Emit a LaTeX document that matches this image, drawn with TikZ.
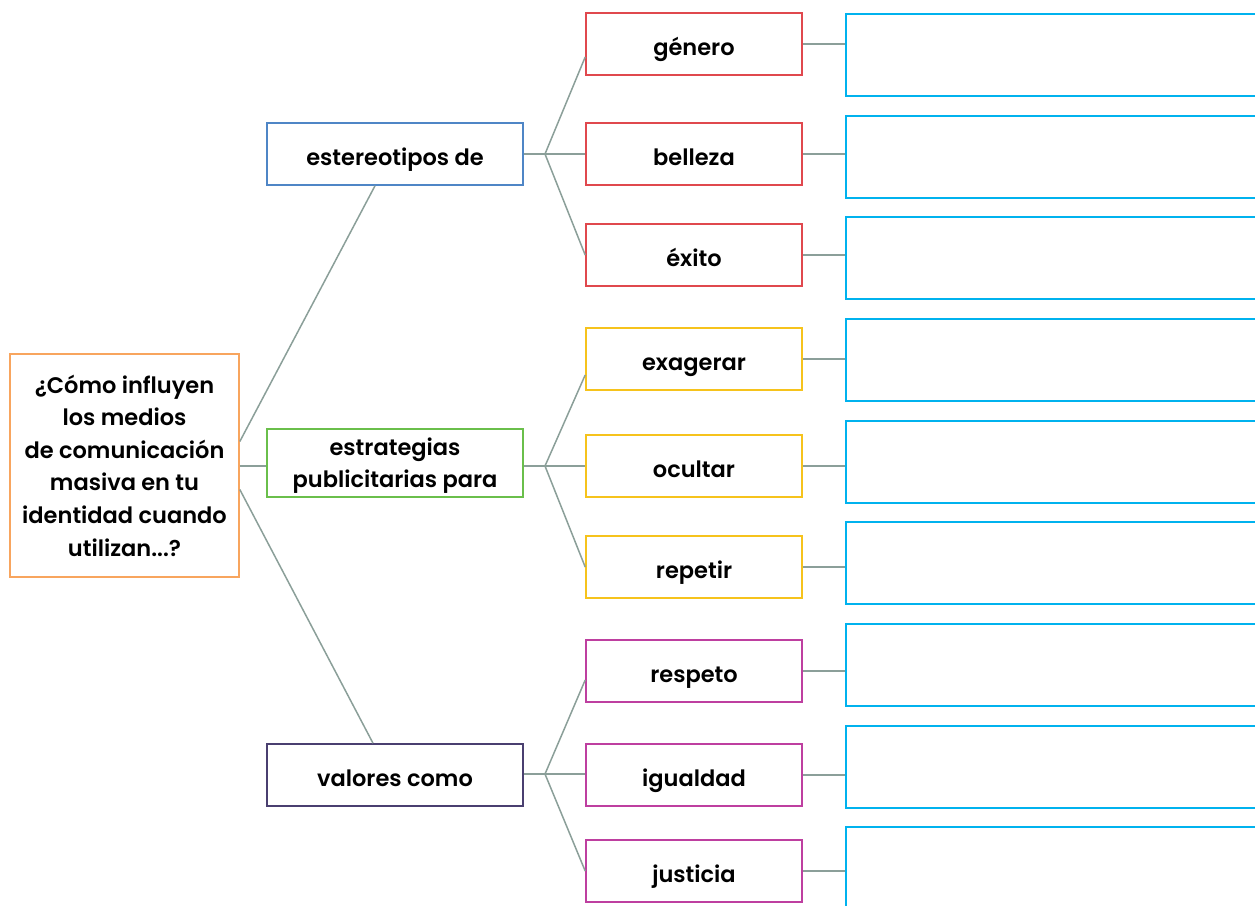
\documentclass[tikz,border=0pt]{standalone}
\usepackage{fontspec}
\setmainfont{Poppins SemiBold}
\definecolor{corange}{HTML}{F8A55E}
\definecolor{cblue}{HTML}{4F86C6}
\definecolor{cgreen}{HTML}{6ABF4B}
\definecolor{cpurple}{HTML}{4A3F70}
\definecolor{cred}{HTML}{E0484E}
\definecolor{cyellow}{HTML}{F6C31C}
\definecolor{cmag}{HTML}{BE3FA0}
\definecolor{ccyan}{HTML}{00B2EE}
\definecolor{cline}{HTML}{8B9F99}
\begin{document}
\begin{tikzpicture}[x=1pt,y=-1pt,
  box/.style={draw, line width=1.6pt, inner sep=0pt, align=center, font=\fontsize{22.5}{32}\selectfont},
  single/.style={text height=22pt, text depth=0pt},
  lone/.style={box, minimum width=256pt, minimum height=62pt},
  ltwo/.style={box, single, minimum width=216pt, minimum height=62pt},
  lthree/.style={draw=ccyan, line width=1.8pt, minimum width=420pt, minimum height=82pt, inner sep=0pt},
  conn/.style={draw=cline, line width=1.5pt}]
\useasboundingbox (0,0) rectangle (1255,905);
% root
\node[box, draw=corange, minimum width=229pt, minimum height=223pt, font=\fontsize{22.5}{32.6}\selectfont] (root) at (124.5,465.5)
  {¿Cómo influyen\\los medios\\de comunicación\\masiva en tu\\identidad cuando\\utilizan...?};
% level 1
\node[lone, single, draw=cblue] (est) at (395,154) {estereotipos de};
\node[lone, draw=cgreen, minimum height=68pt, text depth=0pt] (estr) at (395,463) {estrategias\\publicitarias para};
\node[lone, single, draw=cpurple] (val) at (395,775) {valores como};
% level 2
\node[ltwo, draw=cred] (gen) at (694,44) {género};
\node[ltwo, draw=cred] (bel) at (694,154) {belleza};
\node[ltwo, draw=cred] (exi) at (694,255) {éxito};
\node[ltwo, draw=cyellow] (exa) at (694,359) {exagerar};
\node[ltwo, draw=cyellow] (ocu) at (694,466) {ocultar};
\node[ltwo, draw=cyellow] (rep) at (694,567) {repetir};
\node[ltwo, draw=cmag] (res) at (694,671) {respeto};
\node[ltwo, draw=cmag] (igu) at (694,775) {igualdad};
\node[ltwo, draw=cmag] (jus) at (694,871) {justicia};
% level 3 (answer boxes)
\node[lthree, anchor=north west] (a1) at (845,13) {};
\node[lthree, anchor=north west] (a2) at (845,115) {};
\node[lthree, anchor=north west] (a3) at (845,216) {};
\node[lthree, anchor=north west] (a4) at (845,318) {};
\node[lthree, anchor=north west] (a5) at (845,420) {};
\node[lthree, anchor=north west] (a6) at (845,521) {};
\node[lthree, anchor=north west] (a7) at (845,623) {};
\node[lthree, anchor=north west] (a8) at (845,725) {};
\node[lthree, anchor=north west] (a9) at (845,826) {};
% forks
\coordinate (f1) at (545,154);
\coordinate (f2) at (545,466);
\coordinate (f3) at (545,774);
% root connectors
\draw[conn] ([yshift=24pt]root.east) -- ([xshift=-20pt]est.south);
\draw[conn] (root.east |- f2) -- (estr.west |- f2);
\draw[conn] ([yshift=-24pt]root.east) -- ([xshift=-22pt]val.north);
% level 1 -> forks
\draw[conn] (est.east |- f1) -- (f1);
\draw[conn] (estr.east |- f2) -- (f2);
\draw[conn] (val.east |- f3) -- (f3);
% forks -> level 2
\draw[conn] (f1) -- ([yshift=-13pt]gen.west);
\draw[conn] (f1) -- (bel.west);
\draw[conn] (f1) -- (exi.west);
\draw[conn] (f2) -- ([yshift=-16pt]exa.west);
\draw[conn] (f2) -- (ocu.west);
\draw[conn] (f2) -- (rep.west);
\draw[conn] (f3) -- ([yshift=-9pt]res.west);
\draw[conn] (f3) -- (igu.west |- f3);
\draw[conn] (f3) -- (jus.west);
% level 2 -> answer boxes
\draw[conn] (gen.east) -- (a1.west |- gen.east);
\draw[conn] (bel.east) -- (a2.west |- bel.east);
\draw[conn] (exi.east) -- (a3.west |- exi.east);
\draw[conn] (exa.east) -- (a4.west |- exa.east);
\draw[conn] (ocu.east) -- (a5.west |- ocu.east);
\draw[conn] (rep.east) -- (a6.west |- rep.east);
\draw[conn] (res.east) -- (a7.west |- res.east);
\draw[conn] (igu.east) -- (a8.west |- igu.east);
\draw[conn] (jus.east) -- (a9.west |- jus.east);
\end{tikzpicture}
\end{document}
